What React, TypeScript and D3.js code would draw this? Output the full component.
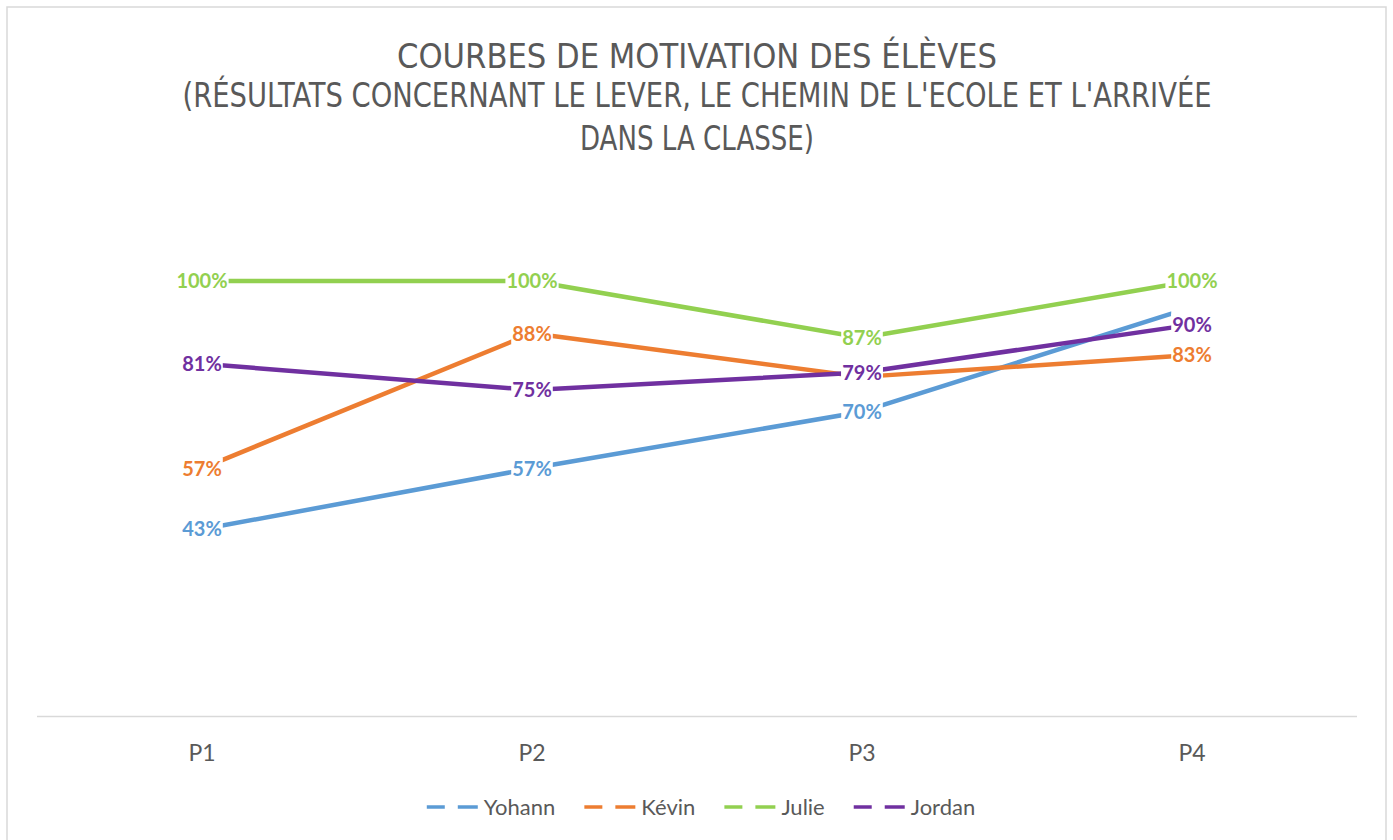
import React, { useEffect, useRef } from 'react';
import * as d3 from 'd3';

// ====

const periods = ['P1', 'P2', 'P3', 'P4'];
const students = ['Yohann', 'Kévin', 'Julie', 'Jordan'];

const yohann = [0.43, 0.57, 0.70, 0.94];
const kevin = [0.57, 0.88, 0.78, 0.83];
const julie = [1.0, 1.0, 0.87, 1.0];
const jordan = [0.81, 0.75, 0.79, 0.90];

const seriesColors = ['#5B9BD5', '#ED7D31', '#92D050', '#7030A0'];

// labels that were not shown in the original chart: [student, period]
const hiddenLabels = [['Yohann', 'P4'], ['Kévin', 'P3']];

const titleLines = [
    'COURBES DE MOTIVATION DES ÉLÈVES',
    "(RÉSULTATS CONCERNANT LE LEVER, LE CHEMIN DE L'ECOLE ET L'ARRIVÉE",
    'DANS LA CLASSE)',
];
const titleWidths = [600, 1029, 234];

// ====

const W = 1393;
const H = 840;
const FONT = 'Lato, "Open Sans", sans-serif';
const GREY = '#595959';

export default function App() {
    const node = useRef<SVGSVGElement | null>(null);

    useEffect(() => {
        const svg = d3.select(node.current);
        svg.selectAll('*').remove();

        const series = [yohann, kevin, julie, jordan].map((values, i) => ({
            name: students[i],
            color: seriesColors[i],
            points: values.map((v, j) => ({ period: periods[j], value: v })),
        }));

        const x = d3.scaleBand().domain(periods).range([37, 1357]).padding(0);
        const y = d3.scaleLinear().domain([0, 1.2]).range([716.5, 194]);
        const cx = (p: string) => (x(p) as number) + x.bandwidth() / 2;
        const center = (37 + 1357) / 2;

        // chart frame
        svg.append('rect')
            .attr('x', 7).attr('y', 7)
            .attr('width', 1379).attr('height', 860)
            .attr('fill', '#fff')
            .attr('stroke', '#d9d9d9')
            .attr('stroke-width', 1.5);

        // title
        const title = svg.append('g')
            .attr('font-family', '"Liberation Sans Narrow", "DejaVu Sans Condensed", ' + FONT)
            .attr('font-weight', 300)
            .attr('font-size', 33)
            .attr('fill', GREY)
            .attr('text-anchor', 'middle');
        titleLines.forEach((line, i) => {
            title.append('text')
                .attr('x', center)
                .attr('y', [68, 107, 150][i])
                .attr('textLength', titleWidths[i])
                .attr('lengthAdjust', 'spacingAndGlyphs')
                .text(line);
        });

        // category axis
        svg.append('line')
            .attr('x1', 37).attr('x2', 1357)
            .attr('y1', y(0)).attr('y2', y(0))
            .attr('stroke', '#d9d9d9')
            .attr('stroke-width', 1.5);

        svg.append('g')
            .selectAll('text')
            .data(periods)
            .enter()
            .append('text')
            .attr('x', (d) => cx(d))
            .attr('y', 761)
            .attr('text-anchor', 'middle')
            .attr('font-family', FONT)
            .attr('font-size', 23)
            .attr('fill', GREY)
            .text((d) => d);

        // lines
        const line = d3.line<{ period: string; value: number }>()
            .x((d) => cx(d.period))
            .y((d) => y(d.value));

        svg.append('g')
            .selectAll('path')
            .data(series)
            .enter()
            .append('path')
            .attr('d', (d) => line(d.points))
            .attr('fill', 'none')
            .attr('stroke', (d) => d.color)
            .attr('stroke-width', 4.5)
            .attr('stroke-linejoin', 'round');

        // data labels, white boxes hide the line under them
        const fmt = d3.format('.0%');
        series.forEach((s) => {
            const g = svg.append('g')
                .attr('font-family', FONT)
                .attr('font-weight', 700)
                .attr('font-size', 20);
            s.points.forEach((p) => {
                const hidden = hiddenLabels.some(([n, per]) => n === s.name && per === p.period);
                const px = cx(p.period);
                const py = y(p.value);
                const box = g.append('rect').attr('fill', '#fff');
                const t = g.append('text')
                    .attr('x', px)
                    .attr('y', py)
                    .attr('dy', '0.36em')
                    .attr('text-anchor', 'middle')
                    .attr('fill', s.color)
                    .text(fmt(p.value));
                const bb = (t.node() as SVGTextElement).getBBox();
                box.attr('x', bb.x - 1).attr('y', py - 11)
                    .attr('width', bb.width + 2).attr('height', 22);
                if (hidden) t.remove();
            });
        });

        // legend: line key with a gap where the (blank) marker sits
        const legend = svg.append('g')
            .attr('font-family', FONT)
            .attr('font-size', 22)
            .attr('fill', GREY);
        const items = series.map((s) => {
            const g = legend.append('g');
            g.append('line')
                .attr('x1', 0).attr('x2', 18)
                .attr('y1', 0).attr('y2', 0)
                .attr('stroke', s.color).attr('stroke-width', 3.5);
            g.append('line')
                .attr('x1', 31).attr('x2', 51)
                .attr('y1', 0).attr('y2', 0)
                .attr('stroke', s.color).attr('stroke-width', 3.5);
            const t = g.append('text')
                .attr('x', 57)
                .attr('dy', '0.36em')
                .text(s.name);
            const w = 57 + (t.node() as SVGTextElement).getComputedTextLength();
            return { g, w };
        });
        const gap = 29;
        const total = d3.sum(items, (d) => d.w) + gap * (items.length - 1);
        let pos = center + 4 - total / 2;
        items.forEach((it) => {
            it.g.attr('transform', `translate(${pos},807)`);
            pos += it.w + gap;
        });
    }, []);

    return (
        <svg
            ref={node}
            width={W}
            height={H}
            style={{ position: 'absolute', left: 0, top: 0, background: '#fff' }}>
        </svg>
    );
}
